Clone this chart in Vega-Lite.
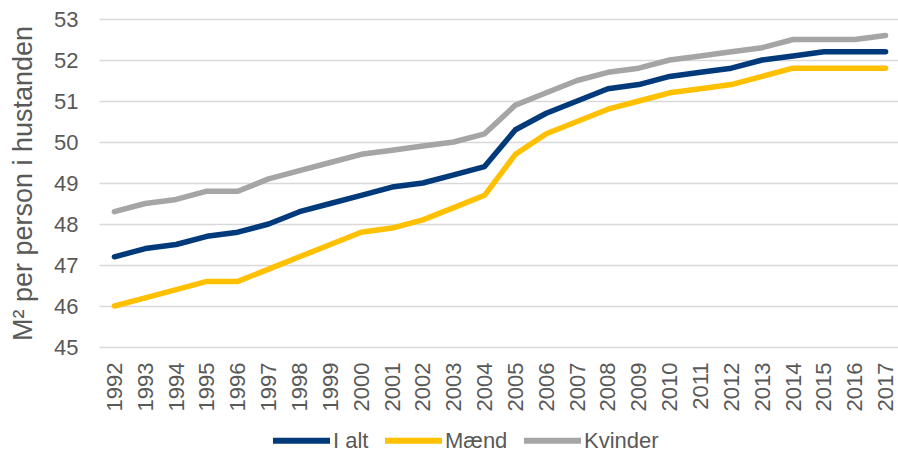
{
  "$schema": "https://vega.github.io/schema/vega-lite/v6.json",
  "width": 802,
  "height": 328,
  "autosize": {"type": "none"},
  "padding": {"left": 99, "top": 19, "right": 0, "bottom": 106},
  "background": "white",
  "config": {"view": {"stroke": null}, "font": "Liberation Sans"},
  "data": {"values": [
    {"year": "1992", "s": "I alt", "v": 47.2}, {"year": "1993", "s": "I alt", "v": 47.4}, {"year": "1994", "s": "I alt", "v": 47.5}, {"year": "1995", "s": "I alt", "v": 47.7}, {"year": "1996", "s": "I alt", "v": 47.8}, {"year": "1997", "s": "I alt", "v": 48.0}, {"year": "1998", "s": "I alt", "v": 48.3}, {"year": "1999", "s": "I alt", "v": 48.5}, {"year": "2000", "s": "I alt", "v": 48.7}, {"year": "2001", "s": "I alt", "v": 48.9}, {"year": "2002", "s": "I alt", "v": 49.0}, {"year": "2003", "s": "I alt", "v": 49.2}, {"year": "2004", "s": "I alt", "v": 49.4}, {"year": "2005", "s": "I alt", "v": 50.3}, {"year": "2006", "s": "I alt", "v": 50.7}, {"year": "2007", "s": "I alt", "v": 51.0}, {"year": "2008", "s": "I alt", "v": 51.3}, {"year": "2009", "s": "I alt", "v": 51.4}, {"year": "2010", "s": "I alt", "v": 51.6}, {"year": "2011", "s": "I alt", "v": 51.7}, {"year": "2012", "s": "I alt", "v": 51.8}, {"year": "2013", "s": "I alt", "v": 52.0}, {"year": "2014", "s": "I alt", "v": 52.1}, {"year": "2015", "s": "I alt", "v": 52.2}, {"year": "2016", "s": "I alt", "v": 52.2}, {"year": "2017", "s": "I alt", "v": 52.2},
    {"year": "1992", "s": "Mænd", "v": 46.0}, {"year": "1993", "s": "Mænd", "v": 46.2}, {"year": "1994", "s": "Mænd", "v": 46.4}, {"year": "1995", "s": "Mænd", "v": 46.6}, {"year": "1996", "s": "Mænd", "v": 46.6}, {"year": "1997", "s": "Mænd", "v": 46.9}, {"year": "1998", "s": "Mænd", "v": 47.2}, {"year": "1999", "s": "Mænd", "v": 47.5}, {"year": "2000", "s": "Mænd", "v": 47.8}, {"year": "2001", "s": "Mænd", "v": 47.9}, {"year": "2002", "s": "Mænd", "v": 48.1}, {"year": "2003", "s": "Mænd", "v": 48.4}, {"year": "2004", "s": "Mænd", "v": 48.7}, {"year": "2005", "s": "Mænd", "v": 49.7}, {"year": "2006", "s": "Mænd", "v": 50.2}, {"year": "2007", "s": "Mænd", "v": 50.5}, {"year": "2008", "s": "Mænd", "v": 50.8}, {"year": "2009", "s": "Mænd", "v": 51.0}, {"year": "2010", "s": "Mænd", "v": 51.2}, {"year": "2011", "s": "Mænd", "v": 51.3}, {"year": "2012", "s": "Mænd", "v": 51.4}, {"year": "2013", "s": "Mænd", "v": 51.6}, {"year": "2014", "s": "Mænd", "v": 51.8}, {"year": "2015", "s": "Mænd", "v": 51.8}, {"year": "2016", "s": "Mænd", "v": 51.8}, {"year": "2017", "s": "Mænd", "v": 51.8},
    {"year": "1992", "s": "Kvinder", "v": 48.3}, {"year": "1993", "s": "Kvinder", "v": 48.5}, {"year": "1994", "s": "Kvinder", "v": 48.6}, {"year": "1995", "s": "Kvinder", "v": 48.8}, {"year": "1996", "s": "Kvinder", "v": 48.8}, {"year": "1997", "s": "Kvinder", "v": 49.1}, {"year": "1998", "s": "Kvinder", "v": 49.3}, {"year": "1999", "s": "Kvinder", "v": 49.5}, {"year": "2000", "s": "Kvinder", "v": 49.7}, {"year": "2001", "s": "Kvinder", "v": 49.8}, {"year": "2002", "s": "Kvinder", "v": 49.9}, {"year": "2003", "s": "Kvinder", "v": 50.0}, {"year": "2004", "s": "Kvinder", "v": 50.2}, {"year": "2005", "s": "Kvinder", "v": 50.9}, {"year": "2006", "s": "Kvinder", "v": 51.2}, {"year": "2007", "s": "Kvinder", "v": 51.5}, {"year": "2008", "s": "Kvinder", "v": 51.7}, {"year": "2009", "s": "Kvinder", "v": 51.8}, {"year": "2010", "s": "Kvinder", "v": 52.0}, {"year": "2011", "s": "Kvinder", "v": 52.1}, {"year": "2012", "s": "Kvinder", "v": 52.2}, {"year": "2013", "s": "Kvinder", "v": 52.3}, {"year": "2014", "s": "Kvinder", "v": 52.5}, {"year": "2015", "s": "Kvinder", "v": 52.5}, {"year": "2016", "s": "Kvinder", "v": 52.5}, {"year": "2017", "s": "Kvinder", "v": 52.6}
  ]},
  "mark": {"type": "line", "strokeWidth": 5.5, "strokeCap": "round", "strokeJoin": "round"},
  "encoding": {
    "x": {
      "field": "year", "type": "ordinal",
      "scale": {"type": "point", "padding": 0.5},
      "axis": {
        "title": null, "labelAngle": -90, "labelAlign": "right", "labelBaseline": "middle",
        "labelFontSize": 22, "labelColor": "#595959", "labelPadding": 15,
        "ticks": false, "domain": false, "grid": false
      }
    },
    "y": {
      "field": "v", "type": "quantitative",
      "scale": {"domain": [45, 53], "nice": false, "zero": false},
      "axis": {
        "title": "M² per person i hustanden", "titleFontSize": 27, "titleFontWeight": "normal",
        "titleColor": "#595959", "titlePadding": 16,
        "values": [45, 46, 47, 48, 49, 50, 51, 52, 53],
        "labelFontSize": 22, "labelColor": "#595959", "labelPadding": 21,
        "ticks": false, "domain": false,
        "gridColor": "#d9d9d9", "gridWidth": 1.5
      }
    },
    "color": {
      "field": "s", "type": "nominal",
      "scale": {"domain": ["I alt", "Mænd", "Kvinder"], "range": ["#003a7a", "#ffc000", "#a5a5a5"]},
      "sort": ["I alt", "Mænd", "Kvinder"],
      "legend": {
        "title": null, "orient": "none", "direction": "horizontal",
        "legendX": 171, "legendY": 390,
        "symbolType": "stroke", "symbolSize": 3249, "symbolStrokeWidth": 6,
        "labelFontSize": 22, "labelColor": "#595959", "labelOffset": 0,
        "columnPadding": 4
      }
    }
  }
}
